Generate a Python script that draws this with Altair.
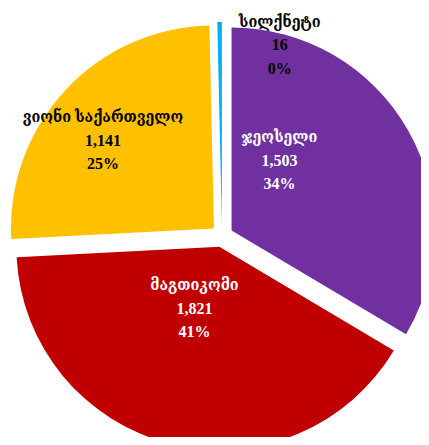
import math
import altair as alt
import pandas as pd

# ---- data ----
names = ["ჯეოსელი", "მაგთიკომი", "ვიონი საქართველო", "სილქნეტი"]
values = [1503, 1821, 1141, 16]
colors = ["#7030A0", "#C00000", "#FFC000", "#00B0F0"]
label_colors = ["white", "white", "black", "black"]

df = pd.DataFrame({"name": names, "value": values, "k": list(range(len(names)))})

# ---- layout / style ----
W, H = 413, 429
CX, CY = 214, 228       # pie centre
R = 203                 # pie radius
D = 11                  # explode distance
FONT = "Liberation Serif, DejaVu Serif Condensed, DejaVu Serif, serif"
LH = 23.5
# label placement: radius along slice bisector + small nudge (style)
label_place = [
    dict(r=85, dx=-26, dy=-28 - LH),
    dict(r=66, dx=-9, dy=-2 - LH),
    dict(r=142, dx=-7, dy=9 - LH),
    dict(r=189, dx=60, dy=9 - LH),
]

base = (
    alt.Chart(df)
    .transform_joinaggregate(total="sum(value)")
    .transform_window(cum="sum(value)", sort=[alt.SortField("k")], frame=[None, 0])
    .transform_calculate(start="(datum.cum - datum.value) / datum.total")
    .transform_calculate(stop="datum.cum / datum.total")
    .transform_calculate(mid="(datum.start + datum.stop) / 2")
    .transform_calculate(ex="sin(2 * PI * datum.mid)")
    .transform_calculate(ey="-cos(2 * PI * datum.mid)")
    .transform_calculate(
        label="[datum.name, format(datum.value, ','), format(datum.value / datum.total, '.0%')]"
    )
)

x_enc = alt.X("ex:Q", scale=alt.Scale(domain=[-1, 1], range=[CX - D, CX + D]), axis=None)
y_enc = alt.Y("ey:Q", scale=alt.Scale(domain=[-1, 1], range=[CY - D, CY + D]), axis=None)
th_scale = alt.Scale(domain=[0, 1], range=[0, 2 * math.pi])

arcs = base.mark_arc(radius=R).encode(
    x=x_enc,
    y=y_enc,
    theta=alt.Theta("start:Q", scale=th_scale, stack=False),
    theta2="stop:Q",
    color=alt.Color("name:N", scale=alt.Scale(domain=names, range=colors), legend=None),
)

layers = [arcs]
for i, p in enumerate(label_place):
    layers.append(
        base.transform_filter(alt.datum.k == i)
        .mark_text(
            radius=p["r"], dx=p["dx"], dy=p["dy"],
            font=FONT, fontSize=16, fontWeight="bold",
            color=label_colors[i], lineHeight=LH,
            align="center", baseline="middle",
        )
        .encode(
            x=x_enc,
            y=y_enc,
            theta=alt.Theta("mid:Q", scale=th_scale, stack=False),
            text="label:N",
        )
    )

chart = (
    alt.layer(*layers)
    .properties(width=W, height=H, padding=0, autosize=alt.AutoSizeParams(type="none"))
    .configure_view(stroke=None)
)

chart.save("out.html", embed_options={"renderer": "svg", "actions": False})
